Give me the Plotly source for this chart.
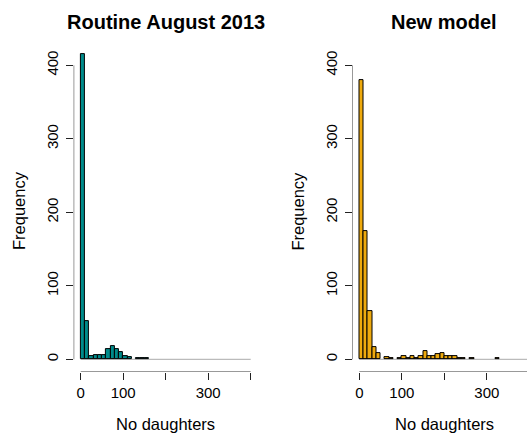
import plotly.graph_objects as go

# ---- data ----
bin_edges = [0, 10, 20, 30, 40, 50, 60, 70, 80, 90, 100, 110, 120, 130, 140, 150, 160, 170, 180, 190,
             200, 210, 220, 230, 240, 250, 260, 270, 280, 290, 300, 310, 320, 330, 340, 350, 360, 370, 380, 390, 400]
routine_counts = [415, 52, 5, 6, 6, 6, 14, 18, 14, 10, 5, 3, 0, 1, 1, 1, 0, 0, 0, 0,
                  0, 0, 0, 0, 0, 0, 0, 0, 0, 0, 0, 0, 0, 0, 0, 0, 0, 0, 0, 0]
newmodel_counts = [380, 175, 66, 16, 8, 0, 3, 1, 0, 1, 5, 2, 4, 2, 4, 11, 5, 5, 7, 9,
                   5, 5, 5, 2, 2, 0, 1, 0, 0, 0, 0, 0, 1, 0, 0, 0, 0, 0, 0, 0]
x_tick_vals = [0, 100, 200, 300, 400]
x_tick_text = ["0", "100", "", "300", ""]
y_tick_vals = [0, 100, 200, 300, 400]
y_tick_text = ["0", "100", "200", "300", "400"]
titles = ["Routine August 2013", "New model"]
x_title = "No daughters"
y_title = "Frequency"
colors = ["#008B8B", "#EEAA0E"]

W, H = 527, 435
FONT = "Liberation Sans, Arial, sans-serif"

def px_x(p):
    return p / W

def px_y(p):
    return 1 - p / H

fig = go.Figure()

counts_list = [routine_counts, newmodel_counts]
axes = [("x", "y"), ("x2", "y2")]
for counts, color, (xa, ya) in zip(counts_list, colors, axes):
    xs, ys = [], []
    for i, c in enumerate(counts):
        if c > 0:
            xs.append((bin_edges[i] + bin_edges[i + 1]) / 2)
            ys.append(c)
    width = bin_edges[1] - bin_edges[0]
    fig.add_trace(go.Bar(x=xs, y=ys, width=width, xaxis=xa, yaxis=ya,
                         marker=dict(color=color, line=dict(color="black", width=1)),
                         showlegend=False, hoverinfo="x+y"))

common_x = dict(showgrid=False, zeroline=False, showline=False, ticks="outside", ticklen=7,
                tickwidth=1, tickcolor="#222", tickvals=x_tick_vals, ticktext=x_tick_text,
                tickfont=dict(family=FONT, size=15, color="black"), fixedrange=True)
common_y = dict(showgrid=False, zeroline=False, showline=False, ticks="outside", ticklen=7,
                tickwidth=1, tickcolor="#222", tickvals=y_tick_vals, ticktext=y_tick_text,
                tickangle=-90, tickfont=dict(family=FONT, size=15, color="black"),
                ticklabelstandoff=2,
                range=[-16.6, 431.6], fixedrange=True)

ydom = [px_y(371.5), px_y(42.1)]
fig.update_layout(
    width=W, height=H,
    margin=dict(l=0, r=0, t=0, b=0),
    paper_bgcolor="white", plot_bgcolor="white",
    xaxis=dict(domain=[px_x(73.9), px_x(257.5)], range=[-16, 416], anchor="y", **common_x),
    yaxis=dict(domain=ydom, anchor="x", **common_y),
    xaxis2=dict(domain=[px_x(352.5), 1.0], range=[-16, 394.6], anchor="y2", **common_x),
    yaxis2=dict(domain=ydom, anchor="x2", **common_y),
    bargap=0,
)

shapes = []
for xa, ya in axes:
    xd = xa + " domain"
    yd = ya + " domain"
    # zero-count baseline
    shapes.append(dict(type="line", xref=xa, yref=ya, x0=bin_edges[0], x1=bin_edges[-1], y0=0, y1=0,
                       line=dict(color="#aaaaaa", width=1), layer="below"))
    # axis lines (R style: from first to last tick)
    shapes.append(dict(type="line", xref=xa, yref=yd, x0=x_tick_vals[0], x1=x_tick_vals[-1], y0=0, y1=0,
                       line=dict(color="#999999", width=1)))
    shapes.append(dict(type="line", xref=xd, yref=ya, x0=0, x1=0, y0=y_tick_vals[0], y1=y_tick_vals[-1],
                       line=dict(color="#999999", width=1)))
fig.update_layout(shapes=shapes)

ann = []
# titles
ann.append(dict(text="<b>%s</b>" % titles[0], x=px_x(165.7), y=px_y(22.5), xref="paper", yref="paper",
                showarrow=False, xanchor="center", yanchor="middle", font=dict(family=FONT, size=20, color="black")))
ann.append(dict(text="<b>%s</b>" % titles[1], x=px_x(444.3), y=px_y(22.5), xref="paper", yref="paper",
                showarrow=False, xanchor="center", yanchor="middle", font=dict(family=FONT, size=20, color="black")))
# x titles
for cx in (165.5, 444.3):
    ann.append(dict(text=x_title, x=px_x(cx), y=px_y(424), xref="paper", yref="paper", showarrow=False,
                    xanchor="center", yanchor="middle", font=dict(family=FONT, size=16.5, color="black")))
# y titles
for cx in (19, 297.6):
    ann.append(dict(text=y_title, x=px_x(cx), y=px_y(211), xref="paper", yref="paper", showarrow=False,
                    textangle=-90, xanchor="center", yanchor="middle", font=dict(family=FONT, size=16.5, color="black")))
fig.update_layout(annotations=ann)

fig.write_html("out.html", config={"displayModeBar": False},
               post_script="document.body.style.margin='0';document.body.style.overflow='hidden';")
